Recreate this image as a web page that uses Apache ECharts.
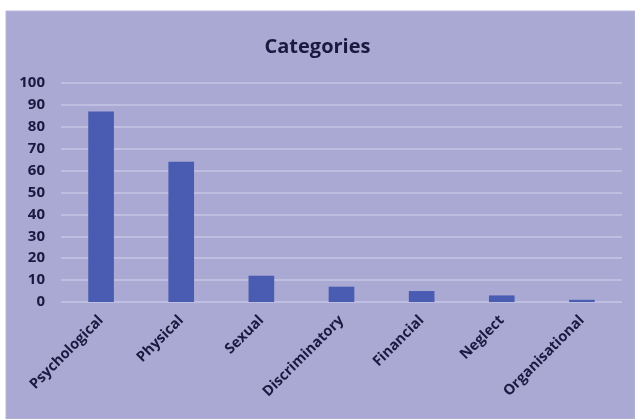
<!DOCTYPE html>
<html>
<head>
<meta charset="utf-8">
<script src="https://cdn.jsdelivr.net/npm/echarts@6/dist/echarts.min.js"></script>
<style>
  html, body { margin: 0; padding: 0; background: #ffffff; }
  #chart { width: 635px; height: 419px; }
</style>
</head>
<body>
<div id="chart"></div>
<script>
// Abuse categories and their counts
const categories = ['Psychological', 'Physical', 'Sexual', 'Discriminatory', 'Financial', 'Neglect', 'Organisational'];
const counts = [87, 64, 12, 7, 5, 3, 1];
const yTicks = [0, 10, 20, 30, 40, 50, 60, 70, 80, 90, 100];

const chart = echarts.init(document.getElementById('chart'), null, { renderer: 'canvas' });
const labelFont = '"Open Sans", "Noto Sans", sans-serif';
const ink = '#1a1a40';

chart.setOption({
  backgroundColor: '#ffffff',
  animation: false,
  graphic: [{
    type: 'rect',
    z: -10,
    shape: { x: 6, y: 11, width: 629, height: 408 },
    style: { fill: '#a9a9d3', stroke: '#b9b9dc', lineWidth: 1 }
  }],
  title: {
    text: 'Categories',
    left: 'center',
    top: 32,
    textStyle: { fontFamily: labelFont, fontSize: 20, fontWeight: 'bold', color: ink }
  },
  grid: { left: 61, right: 13, top: 83, bottom: 117, containLabel: false },
  xAxis: {
    type: 'category',
    data: categories,
    axisLine: { show: false },
    axisTick: { show: false },
    axisLabel: {
      rotate: 45,
      interval: 0,
      margin: 16,
      fontFamily: labelFont,
      fontSize: 14.5,
      fontWeight: 'bold',
      color: ink
    }
  },
  yAxis: {
    type: 'value',
    min: yTicks[0],
    max: yTicks[yTicks.length - 1],
    interval: 10,
    axisLine: { show: false },
    axisTick: { show: false },
    axisLabel: {
      margin: 16,
      fontFamily: labelFont,
      fontSize: 15,
      fontWeight: 'bold',
      color: ink
    },
    splitLine: { lineStyle: { color: '#c6c6e6', width: 1.5 } }
  },
  series: [{
    type: 'bar',
    data: counts,
    barCategoryGap: '68%',
    itemStyle: { color: '#4a5cb2' }
  }]
});
</script>
</body>
</html>
